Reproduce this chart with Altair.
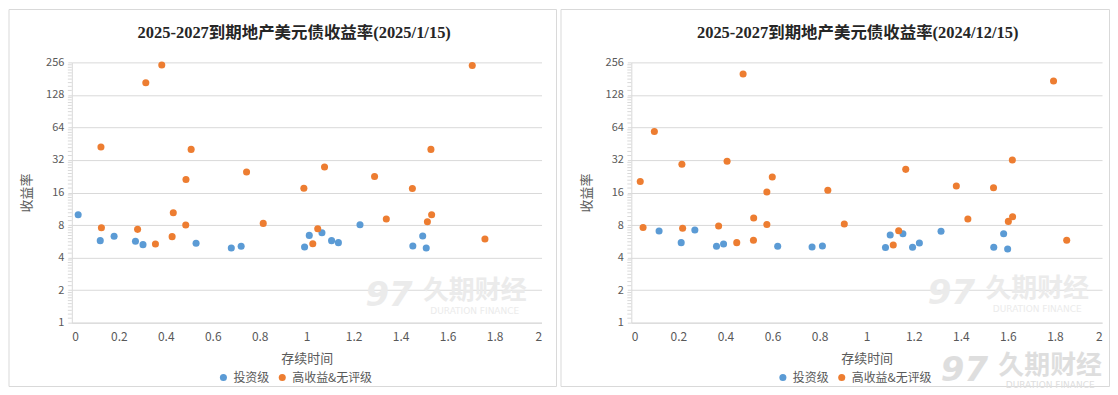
import altair as alt
import pandas as pd

# ---------------- data ----------------
grades = ["投资级", "高收益&无评级"]
colors = ["#5B9BD5", "#ED7D31"]

titles = ["2025-2027到期地产美元债收益率(2025/1/15)",
          "2025-2027到期地产美元债收益率(2024/12/15)"]

# left panel: 2025/1/15
l_ig_x = [0.027, 0.121, 0.18, 0.271, 0.303, 0.529, 0.679, 0.721, 0.991, 1.011,
          1.065, 1.106, 1.135, 1.227, 1.452, 1.494, 1.509]
l_ig_y = [9.96, 5.74, 6.29, 5.66, 5.27, 5.42, 4.91, 5.09, 5.02, 6.42,
          6.8, 5.74, 5.5, 8.06, 5.12, 6.34, 4.91]
l_hy_x = [0.124, 0.126, 0.28, 0.315, 0.356, 0.383, 0.432, 0.427, 0.486, 0.485,
          0.508, 0.744, 0.815, 0.988, 1.026, 1.047, 1.076, 1.289, 1.339, 1.45,
          1.529, 1.532, 1.514, 1.705, 1.759]
l_hy_y = [42.2, 7.56, 7.3, 166, 5.35, 242, 10.4, 6.25, 21.1, 8.0,
          40.1, 24.8, 8.29, 17.5, 5.38, 7.4, 27.6, 22.5, 9.09, 17.4,
          40.1, 9.96, 8.59, 240, 5.94]

# right panel: 2024/12/15
r_ig_x = [0.118, 0.212, 0.27, 0.362, 0.392, 0.622, 0.768, 0.812, 1.08, 1.1,
          1.154, 1.195, 1.224, 1.316, 1.54, 1.582, 1.599]
r_ig_y = [7.04, 5.5, 7.2, 5.09, 5.35, 5.09, 5.02, 5.12, 4.95, 6.47,
          6.66, 4.98, 5.46, 7.0, 4.98, 6.66, 4.81]
r_hy_x = [0.038, 0.05, 0.098, 0.215, 0.218, 0.371, 0.407, 0.448, 0.475, 0.52,
          0.519, 0.576, 0.576, 0.599, 0.835, 0.905, 1.113, 1.136, 1.166, 1.381,
          1.43, 1.539, 1.602, 1.62, 1.619, 1.794, 1.85]
r_hy_y = [20.2, 7.61, 58.8, 29.2, 7.46, 7.83, 31.1, 5.5, 200, 9.28,
          5.78, 16.2, 8.11, 22.3, 16.8, 8.17, 5.23, 7.1, 26.2, 18.4,
          9.09, 17.7, 8.65, 9.55, 32, 172, 5.78]

y_ticks = [1, 2, 4, 8, 16, 32, 64, 128, 256]
x_ticks = [0, 0.2, 0.4, 0.6, 0.8, 1.0, 1.2, 1.4, 1.6, 1.8, 2.0]
x_title = "存续时间"
y_title = "收益率"
wm_cn = "久期财经"
wm_en = "DURATION FINANCE"
wm_logo = "97"

# minor ticks of the log axis (10 subdivisions of each doubling)
minor_ticks = [t * (1 + i / 10) for t in y_ticks[:-1] for i in range(1, 10)]

FONT = "Noto Sans CJK SC"
GRID = "#d9d9d9"
LABEL = "#595959"


def make_df(ig_x, ig_y, hy_x, hy_y):
    rows = [{"duration": a, "yield": b, "grade": grades[0]} for a, b in zip(ig_x, ig_y)]
    rows += [{"duration": a, "yield": b, "grade": grades[1]} for a, b in zip(hy_x, hy_y)]
    return pd.DataFrame(rows)


def one():
    return alt.Data(values=[{}])


def panel(df, title, w, title_cx, frame, wms):
    h = 261
    xscale = alt.Scale(domain=[0, 2], nice=False, zero=False)
    yscale = alt.Scale(type="log", base=2, domain=[1, 256], nice=False)
    yaxis = alt.Axis(
        values=y_ticks, format="d", title=y_title, grid=True, gridColor=GRID,
        tickSize=4, tickColor=GRID, domainColor=GRID, labelColor=LABEL,
        labelFontSize=11, labelFont=FONT, labelPadding=4,
        titleColor=LABEL, titleFontSize=13, titleFont=FONT, titleFontWeight="normal",
        titleX=-45, titleY=h / 2, titleAngle=270, titleAlign="center",
        titleBaseline="middle")
    xaxis = alt.Axis(
        values=x_ticks, format=".1~f", title=x_title, grid=False, ticks=False,
        domainColor=GRID, labelColor=LABEL, labelFontSize=12, labelFont=FONT,
        labelPadding=9, titleColor=LABEL, titleFontSize=13, titleFont=FONT,
        titleFontWeight="normal", titleY=36, titleBaseline="middle")

    fl, fr, ft, fb = frame
    frame_rect = alt.Chart(one()).mark_rect(
        fillOpacity=0, stroke=GRID, strokeWidth=1
    ).encode(x=alt.value(fl), x2=alt.value(fr), y=alt.value(ft), y2=alt.value(fb))

    points = alt.Chart(df).mark_circle(size=50, opacity=1).encode(
        x=alt.X("duration:Q", scale=xscale, axis=xaxis),
        y=alt.Y("yield:Q", scale=yscale, axis=yaxis),
        color=alt.Color("grade:N", scale=alt.Scale(domain=grades, range=colors),
                        legend=alt.Legend(
                            orient="none", legendX=146, legendY=310, direction="horizontal",
                            title=None, symbolType="circle", symbolSize=50,
                            symbolStrokeWidth=0, labelFontSize=12, labelFont=FONT,
                            labelColor=LABEL, labelOffset=4, columnPadding=6, padding=0)),
        order=alt.Order("grade:N", sort="ascending"),
    )

    minor = alt.Chart(pd.DataFrame({"yield": minor_ticks})).mark_rule(
        color=GRID, strokeWidth=1
    ).encode(
        y=alt.Y("yield:Q", scale=yscale, axis=yaxis),
        x=alt.value(-4), x2=alt.value(0),
    )

    layers = [frame_rect]

    # watermark
    for (cx, cy, sf, col, en_y) in wms:
        layers.append(alt.Chart(one()).mark_text(
            text=wm_logo, font="DejaVu Sans", fontSize=34 * sf, fontWeight="bold",
            fontStyle="italic", color=col, align="center", baseline="middle"
        ).encode(x=alt.value(cx - 86 * sf), y=alt.value(cy + 5 * sf)))
        layers.append(alt.Chart(one()).mark_text(
            text=wm_cn, font=FONT, fontSize=26 * sf, fontWeight="bold",
            color=col, align="center", baseline="middle"
        ).encode(x=alt.value(cx), y=alt.value(cy)))
        layers.append(alt.Chart(one()).mark_text(
            text=wm_en, font="DejaVu Sans", fontSize=9 * sf,
            color=col, align="center", baseline="middle"
        ).encode(x=alt.value(cx), y=alt.value(en_y)))

    title_mark = alt.Chart(one()).mark_text(
        text=title, font="Liberation Serif, Noto Sans CJK SC", fontSize=16.5,
        fontWeight="bold", color="#262626", align="center", baseline="middle"
    ).encode(x=alt.value(title_cx), y=alt.value(-29))
    layers.append(title_mark)
    layers.append(points)
    layers.append(minor)

    return alt.layer(*layers).properties(width=w, height=h)


left = panel(make_df(l_ig_x, l_ig_y, l_hy_x, l_hy_y), titles[0], 471, 223,
             (-63, 486, -53, 325),
             [(404, 229, 1.0, "#ebebeb", 249)])
right = panel(make_df(r_ig_x, r_ig_y, r_hy_x, r_hy_y), titles[1], 472, 227,
              (-70.5, 479.5, -53, 325),
              [(407, 227, 1.0, "#ebebeb", 247), (420, 304, 1.0, "#dedede", 324)])

chart = alt.hconcat(left, right, spacing=3).resolve_scale(
    color="independent"
).resolve_legend(color="independent").properties(
    padding=0, background="white"
).configure_view(strokeWidth=0)

chart.save("out.html", embed_options={"renderer": "svg", "actions": False})
